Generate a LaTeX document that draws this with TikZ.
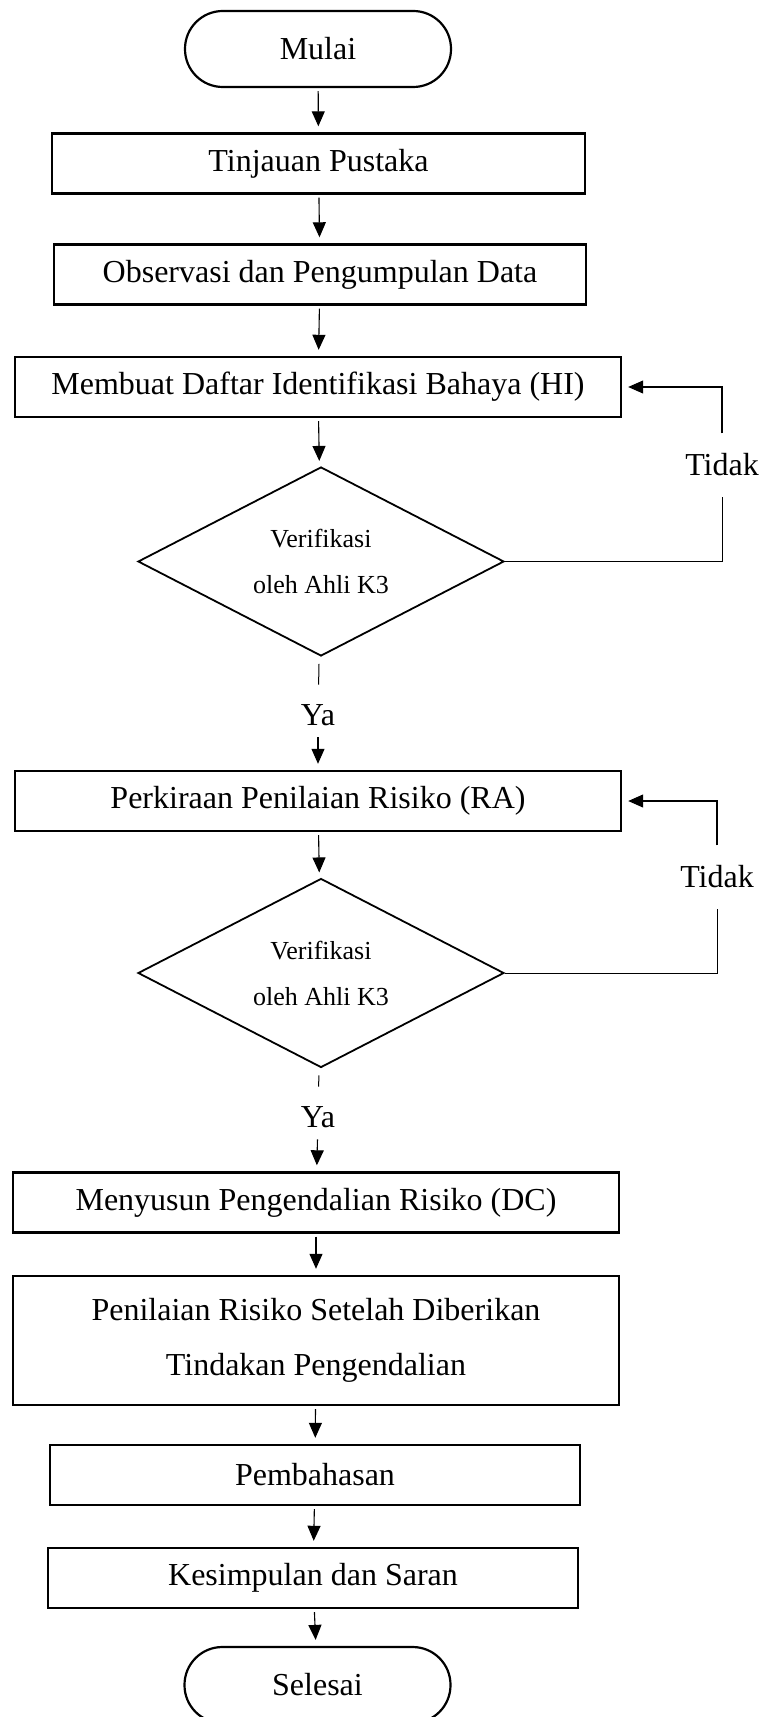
\documentclass[tikz,border=0pt]{standalone}
\usepackage{fontspec}
\setmainfont{Liberation Serif}
\usetikzlibrary{arrows.meta, shapes.geometric}

\begin{document}
\begin{tikzpicture}[x=0.5pt, y=-0.5pt,
    terminal/.style={draw, line width=1.1pt, rounded corners=18.9pt, minimum width=133pt, minimum height=38pt, inner sep=0pt, font=\fontsize{16}{19}\selectfont},
    procbox/.style={draw, line width=1.2pt, minimum width=303pt, minimum height=30pt, inner sep=0pt, align=center, font=\fontsize{16}{27.5}\selectfont},
    decision/.style={draw, diamond, aspect=2, line width=0.9pt, minimum width=183pt, minimum height=94.5pt, inner sep=0pt, align=center, font=\fontsize{13}{23}\selectfont},
    answer/.style={inner xsep=2pt, inner ysep=5.7pt, font=\fontsize{16}{19}\selectfont},
    flow/.style={-{Triangle[length=7.5pt, width=6.5pt]}, line width=0.55pt, shorten <=1.5pt, shorten >=3pt},
    stub/.style={line width=0.5pt, shorten <=4pt, shorten >=4pt},
    backline/.style={line width=0.5pt}]
    \useasboundingbox (0,0) rectangle (763,1717);

    % Start
    \node[terminal] (mulai) at (318,49) {Mulai};

    % Preparation
    \node[procbox, minimum width=266.5pt] (tinjauan) at (318.5,163.5) {Tinjauan Pustaka};
    \node[procbox, minimum width=266pt] (observasi) at (320,274.5) {Observasi dan Pengumpulan Data};

    % Hazard identification and check
    \node[procbox] (hi) at (318,387) {Membuat Daftar Identifikasi Bahaya (HI)};
    \node[decision] (verif1) at (321,561.5) {Verifikasi\\oleh Ahli K3};
    \node[answer, inner ysep=10pt] (tidak1) at (722,465) {Tidak};
    \node[answer] (ya1) at (318,715) {Ya};

    % Risk assessment and check
    \node[procbox] (ra) at (318,801) {Perkiraan Penilaian Risiko (RA)};
    \node[decision] (verif2) at (321,973) {Verifikasi\\oleh Ahli K3};
    \node[answer, inner ysep=10pt] (tidak2) at (717,877) {Tidak};
    \node[answer] (ya2) at (318,1117) {Ya};

    % Control and closing
    \node[procbox] (dc) at (316,1202.5) {Menyusun Pengendalian Risiko (DC)};
    \node[procbox, minimum height=64.5pt] (penilaian) at (316,1340.5) {Penilaian Risiko Setelah Diberikan\\Tindakan Pengendalian};
    \node[procbox, minimum width=265pt] (pembahasan) at (315,1475) {Pembahasan};
    \node[procbox, minimum width=265pt] (kesimpulan) at (313,1578) {Kesimpulan dan Saran};
    \node[terminal] (selesai) at (317.5,1685) {Selesai};

    % Main flow
    \draw[flow] (mulai) -- (tinjauan);
    \draw[flow] (tinjauan) -- (observasi);
    \draw[flow] (observasi) -- (hi);
    \draw[flow] (hi) -- (verif1);
    \draw[stub] (verif1) -- (ya1);
    \draw[flow, shorten <=0pt] (ya1) -- (ra);
    \draw[flow] (ra) -- (verif2);
    \draw[stub] (verif2) -- (ya2);
    \draw[flow, shorten <=0pt] (ya2) -- (dc);
    \draw[flow] (dc) -- (penilaian);
    \draw[flow] (penilaian) -- (pembahasan);
    \draw[flow] (pembahasan) -- (kesimpulan);
    \draw[flow] (kesimpulan) -- (selesai);

    % Back to the step when not verified
    \draw[backline] (verif1.east) -| (tidak1.south);
    \draw[flow, shorten <=0pt] (tidak1.north) |- (hi.east);
    \draw[backline] (verif2.east) -| (tidak2.south);
    \draw[flow, shorten <=0pt] (tidak2.north) |- (ra.east);
\end{tikzpicture}
\end{document}
